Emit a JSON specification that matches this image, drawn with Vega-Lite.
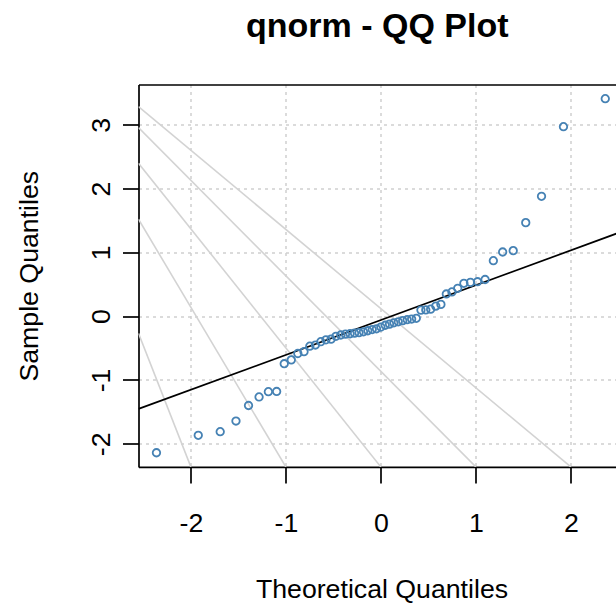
{
  "$schema": "https://vega.github.io/schema/vega-lite/v6.json",
  "width": 477.5,
  "height": 382.4,
  "autosize": {"type": "none"},
  "padding": {"left": 138.5, "top": 84.5, "right": 0, "bottom": 137.1},
  "background": "white",
  "config": {"view": {"stroke": null}, "font": "Liberation Sans"},
  "title": {"text": "qnorm - QQ Plot", "fontSize": 34, "fontWeight": "bold", "font": "Liberation Sans", "color": "black", "anchor": "middle", "frame": "group", "offset": 14, "baseline": "alphabetic"},
  "datasets": {
    "pts": [
      {"theo": -2.362, "sample": -2.14}, {"theo": -1.922, "sample": -1.867}, {"theo": -1.691, "sample": -1.81}, {"theo": -1.525, "sample": -1.643}, {"theo": -1.393, "sample": -1.4},
      {"theo": -1.282, "sample": -1.266}, {"theo": -1.184, "sample": -1.183}, {"theo": -1.097, "sample": -1.18}, {"theo": -1.017, "sample": -0.745}, {"theo": -0.943, "sample": -0.685},
      {"theo": -0.874, "sample": -0.585}, {"theo": -0.809, "sample": -0.556}, {"theo": -0.748, "sample": -0.47}, {"theo": -0.689, "sample": -0.452}, {"theo": -0.632, "sample": -0.4},
      {"theo": -0.578, "sample": -0.37}, {"theo": -0.524, "sample": -0.36}, {"theo": -0.473, "sample": -0.315}, {"theo": -0.422, "sample": -0.295}, {"theo": -0.373, "sample": -0.282},
      {"theo": -0.324, "sample": -0.275}, {"theo": -0.277, "sample": -0.266}, {"theo": -0.23, "sample": -0.258}, {"theo": -0.183, "sample": -0.245}, {"theo": -0.137, "sample": -0.228},
      {"theo": -0.091, "sample": -0.21}, {"theo": -0.046, "sample": -0.198}, {"theo": 0, "sample": -0.17}, {"theo": 0.046, "sample": -0.142}, {"theo": 0.091, "sample": -0.124},
      {"theo": 0.137, "sample": -0.104}, {"theo": 0.183, "sample": -0.088}, {"theo": 0.23, "sample": -0.07}, {"theo": 0.277, "sample": -0.055}, {"theo": 0.324, "sample": -0.045},
      {"theo": 0.373, "sample": -0.033}, {"theo": 0.422, "sample": 0.095}, {"theo": 0.473, "sample": 0.098}, {"theo": 0.524, "sample": 0.11}, {"theo": 0.578, "sample": 0.158},
      {"theo": 0.632, "sample": 0.185}, {"theo": 0.689, "sample": 0.348}, {"theo": 0.748, "sample": 0.38}, {"theo": 0.809, "sample": 0.437}, {"theo": 0.874, "sample": 0.515},
      {"theo": 0.943, "sample": 0.53}, {"theo": 1.017, "sample": 0.54}, {"theo": 1.097, "sample": 0.575}, {"theo": 1.184, "sample": 0.87}, {"theo": 1.282, "sample": 1.006},
      {"theo": 1.393, "sample": 1.027}, {"theo": 1.525, "sample": 1.466}, {"theo": 1.691, "sample": 1.879}, {"theo": 1.922, "sample": 2.97}, {"theo": 2.362, "sample": 3.409}
    ],
    "guides": [
      {"g": "A", "x": -2.551, "y": 3.284}, {"g": "A", "x": 2, "y": -2.362},
      {"g": "B", "x": -2.551, "y": 2.955}, {"g": "B", "x": 1, "y": -2.362},
      {"g": "C", "x": -2.551, "y": 2.397}, {"g": "C", "x": 0, "y": -2.362},
      {"g": "D", "x": -2.551, "y": 1.519}, {"g": "D", "x": -1, "y": -2.362},
      {"g": "E", "x": -2.551, "y": -0.27}, {"g": "E", "x": -2, "y": -2.362}
    ],
    "qq": [
      {"x": -2.551, "y": -1.453}, {"x": 2.551, "y": 1.333}
    ]
  },
  "layer": [
    {
      "data": {"name": "guides"},
      "mark": {"type": "line", "color": "#d3d3d3", "strokeWidth": 1.6, "clip": true},
      "encoding": {
        "x": {"field": "x", "type": "quantitative", "scale": {"domain": [-2.551, 2.475], "nice": false, "zero": false}, "axis": null},
        "y": {"field": "y", "type": "quantitative", "scale": {"domain": [-2.362, 3.631], "nice": false, "zero": false}},
        "detail": {"field": "g"},
        "order": {"field": "x"}
      }
    },
    {
      "data": {"name": "qq"},
      "mark": {"type": "line", "color": "black", "strokeWidth": 1.7, "clip": true},
      "encoding": {
        "x": {"field": "x", "type": "quantitative", "axis": {"orient": "top", "labels": false, "ticks": false, "grid": false, "domain": true, "domainColor": "black", "domainWidth": 1.7, "title": null}},
        "y": {"field": "y", "type": "quantitative"}
      }
    },
    {
      "data": {"name": "pts"},
      "mark": {"type": "point", "shape": "circle", "filled": false, "color": "#4682B4", "size": 56, "strokeWidth": 1.8, "opacity": 1},
      "encoding": {
        "x": {"field": "theo", "type": "quantitative", "axis": {
          "orient": "bottom", "values": [-2, -1, 0, 1, 2], "format": "d", "labelExpr": "replace(datum.label, '\u2212', '-')",
          "grid": true, "gridColor": "#cfcfcf", "gridDash": [3, 4], "gridWidth": 1.5,
          "domainColor": "black", "domainWidth": 1.7, "tickColor": "black", "tickWidth": 1.7, "tickSize": 16,
          "labelFontSize": 26.7, "labelColor": "black", "labelPadding": 49, "labelBaseline": "alphabetic", "labelFlush": false, "labelOverlap": false,
          "title": "Theoretical Quantiles", "titleFontSize": 26.7, "titleFontWeight": "normal", "titleColor": "black",
          "titleX": 243, "titleY": 130.6, "titleBaseline": "alphabetic", "titleAlign": "center"}},
        "y": {"field": "sample", "type": "quantitative", "axis": {
          "values": [-2, -1, 0, 1, 2, 3], "format": "d", "labelExpr": "replace(datum.label, '\u2212', '-')",
          "grid": true, "gridColor": "#cfcfcf", "gridDash": [3, 4], "gridWidth": 1.5,
          "domainColor": "black", "domainWidth": 1.7, "tickColor": "black", "tickWidth": 1.7, "tickSize": 16,
          "labelFontSize": 26.7, "labelColor": "black", "labelPadding": 13, "labelAngle": 270, "labelAlign": "center", "labelBaseline": "alphabetic", "labelFlush": false, "labelOverlap": false,
          "title": "Sample Quantiles", "titleFontSize": 26.7, "titleFontWeight": "normal", "titleColor": "black",
          "titleAngle": 270, "titleX": -101, "titleY": 191.2, "titleBaseline": "alphabetic", "titleAlign": "center"}}
      }
    }
  ],
  "resolve": {"axis": {"x": "independent"}}
}
